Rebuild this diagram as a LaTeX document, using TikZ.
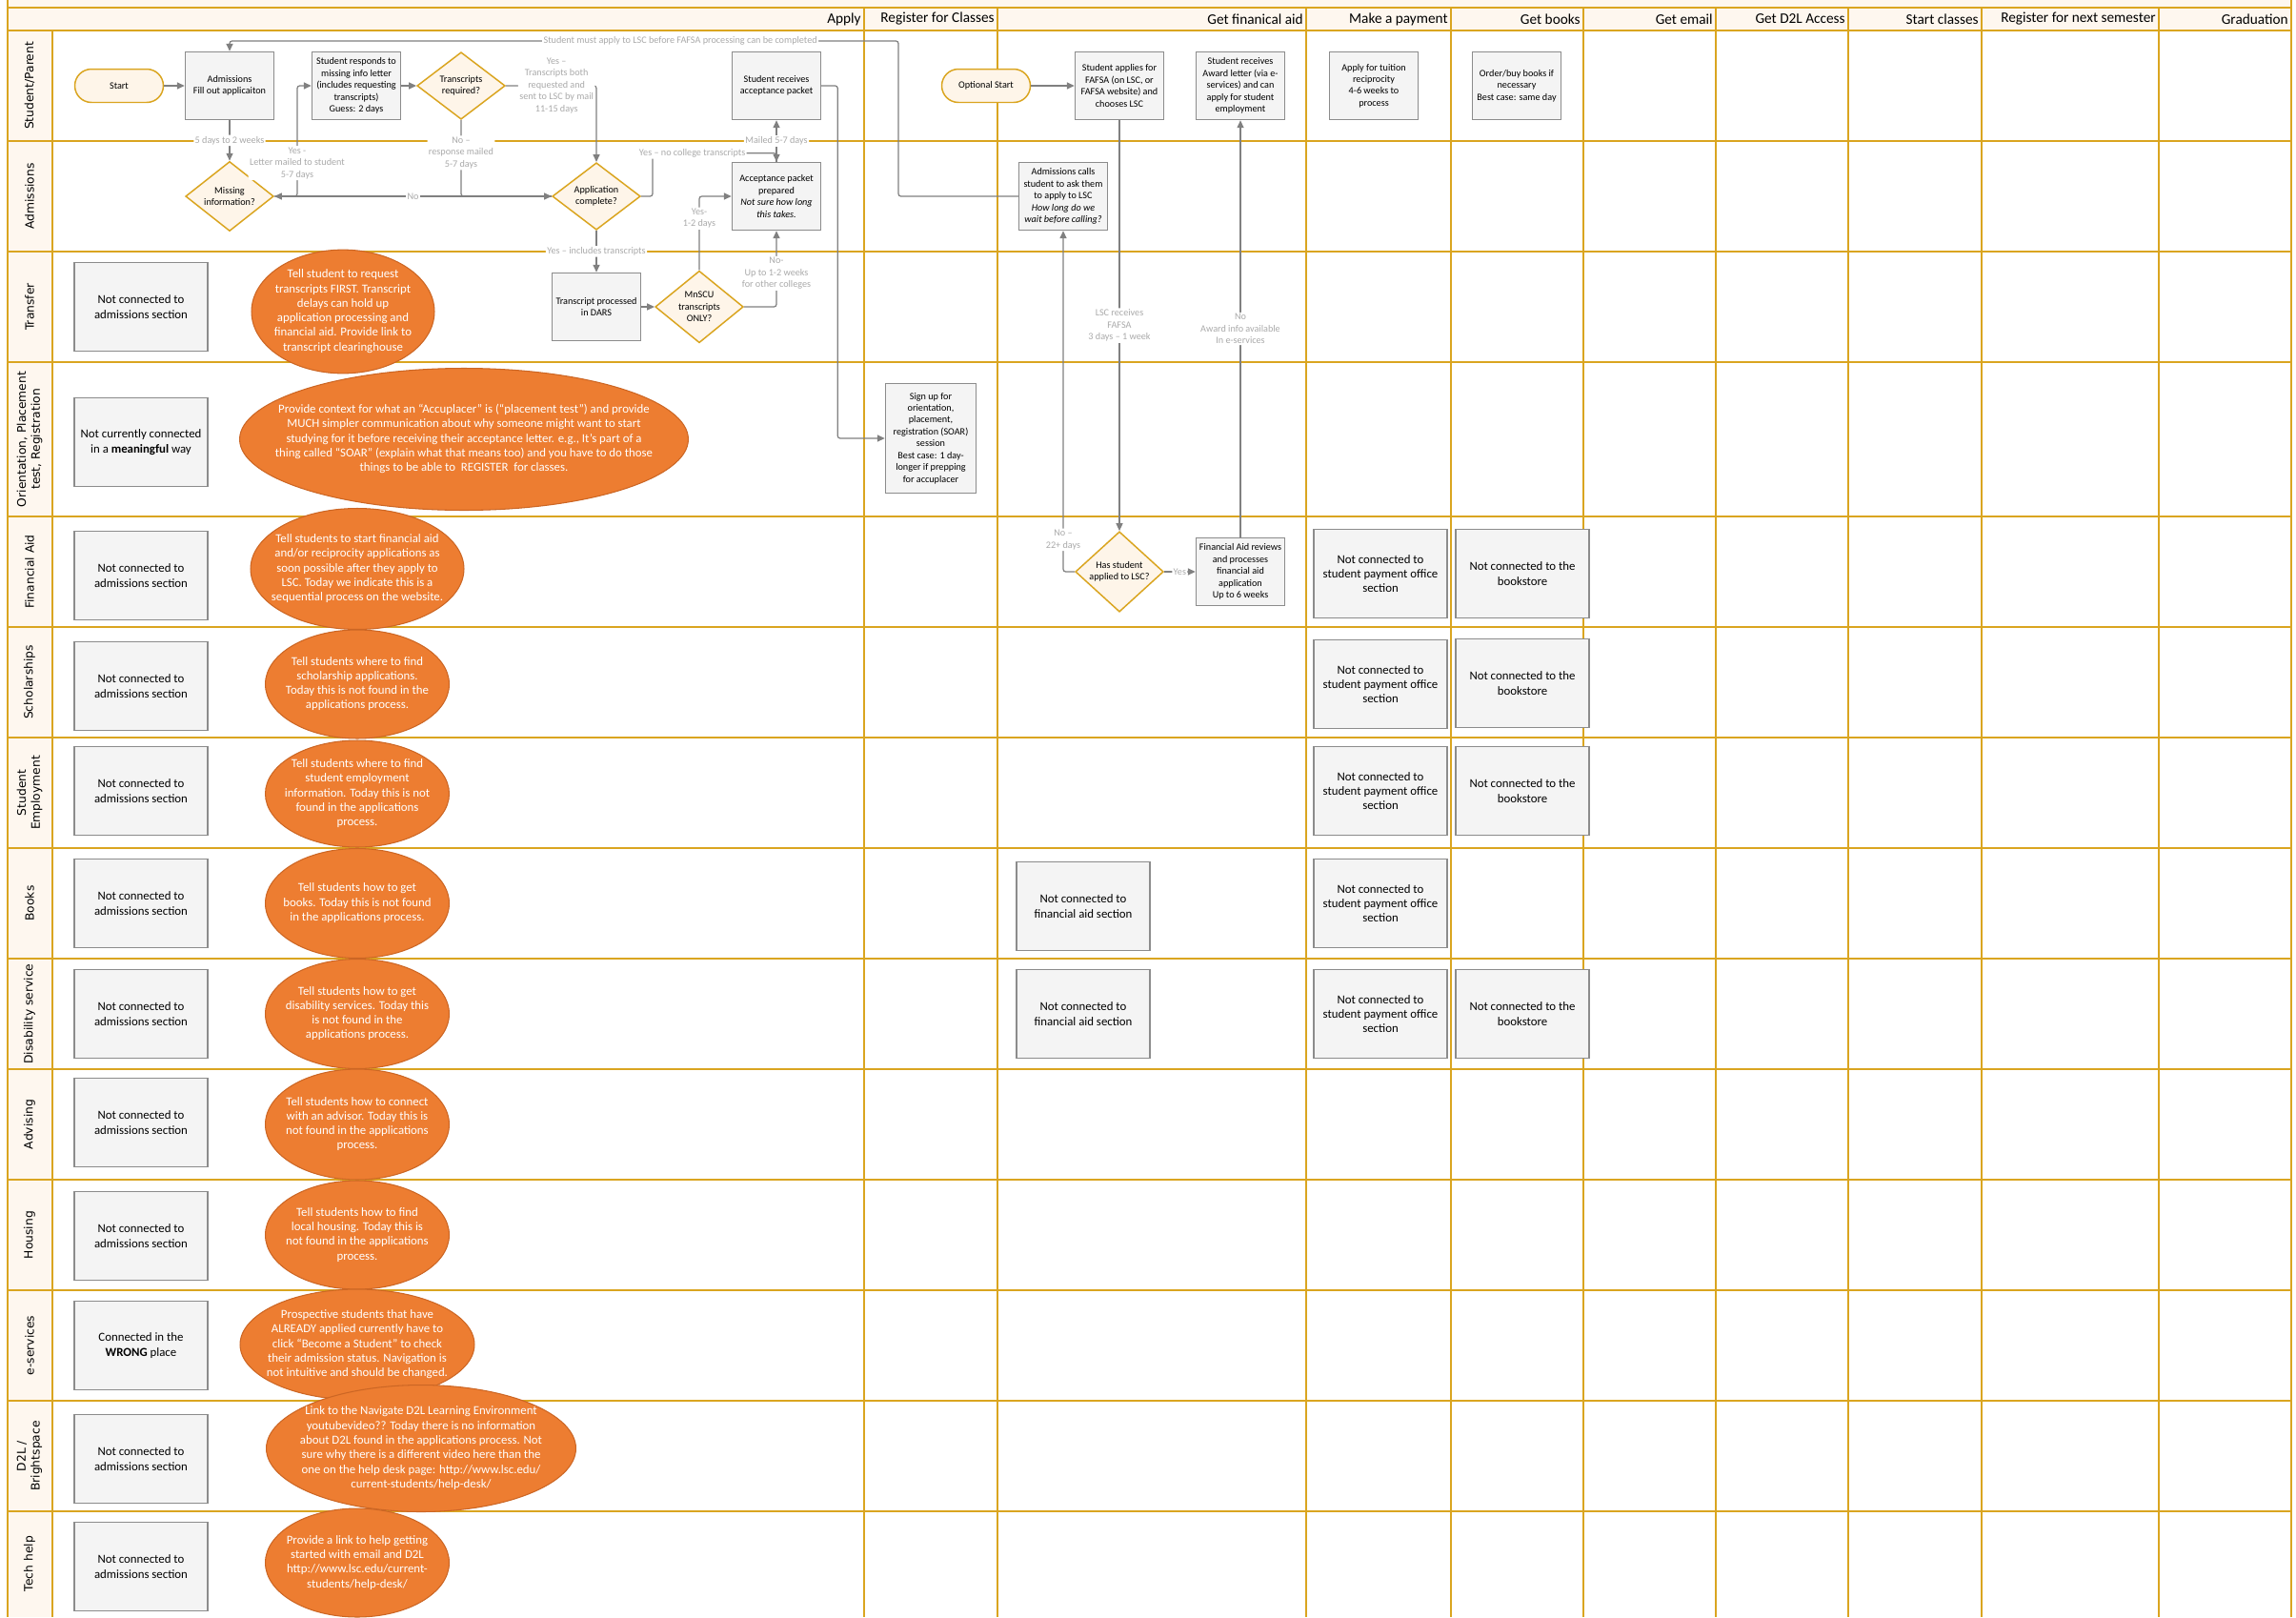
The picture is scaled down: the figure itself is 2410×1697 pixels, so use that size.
\documentclass[tikz,border=0pt]{standalone}
\usepackage{fontspec}
\setmainfont{Carlito}
\newfontfamily\lanefont{DejaVu Sans}
\usetikzlibrary{shapes.geometric,arrows.meta,calc}

\definecolor{lanegold}{RGB}{218,165,32}
\definecolor{headfill}{RGB}{254,247,239}
\definecolor{boxfill}{RGB}{244,244,244}
\definecolor{boxline}{RGB}{140,140,140}
\definecolor{decfill}{RGB}{254,245,233}
\definecolor{notefill}{RGB}{237,125,49}
\definecolor{noteline}{RGB}{204,102,36}
\definecolor{flowgray}{RGB}{128,128,128}
\definecolor{lblgray}{RGB}{170,170,170}

\newcommand\notetext[1]{\makebox[0pt][c]{\begin{tabular}{@{}c@{}}#1\end{tabular}}}

\tikzset{
  laneline/.style={draw=lanegold, line width=1.1pt},
  colline/.style={draw=lanegold, line width=0.95pt},
  headtxt/.style={inner sep=0pt, font=\fontsize{8.7}{10}\selectfont},
  lanetxt/.style={rotate=90, align=center, inner sep=0pt, font=\lanefont\fontsize{7}{8.4}\selectfont},
  stepbox/.style={draw=boxline, fill=boxfill, line width=0.85pt, align=center, inner sep=1pt,
    minimum width=1.86cm, minimum height=1.42cm, font=\fontsize{5.8}{7.1}\selectfont},
  bigbox/.style={stepbox, minimum width=2.8cm, minimum height=1.86cm, font=\fontsize{7.3}{8.7}\selectfont},
  pill/.style={draw=lanegold, fill=decfill, line width=0.85pt, rounded corners=0.35cm,
    minimum width=1.86cm, minimum height=0.7cm, font=\fontsize{5.8}{7.1}\selectfont},
  decision/.style={diamond, draw=lanegold, fill=decfill, line width=0.85pt, align=center, inner sep=0pt,
    minimum width=1.85cm, minimum height=1.41cm, font=\fontsize{5.8}{7.1}\selectfont},
  note/.style={ellipse, draw=noteline, fill=notefill, line width=0.6pt, text=white, inner sep=0pt,
    font=\fontsize{7.3}{8.7}\selectfont},
  flow/.style={draw=flowgray, line width=0.7pt, rounded corners=1.5pt, -{Triangle[length=4.5pt,width=4pt]}},
  lbl/.style={fill=white, text=lblgray, inner sep=0.8pt, align=center, font=\fontsize{5.8}{7.1}\selectfont}
}

\begin{document}
\begin{tikzpicture}[x=0.02cm, y=-0.02cm]
\useasboundingbox (0,0) rectangle (2410,1697);
\fill[headfill] (8,0) rectangle (2405,32);
\fill[headfill] (8,32) rectangle (55,1697);
\foreach \y in {8,32,148,264,380,542,658,774,890,1006,1122,1238,1354,1470,1586}
  \draw[laneline] (8,\y) -- (2405,\y);
\foreach \x in {907,1047,1371,1523,1662,1801,1940,2080,2266}
  \draw[colline] (\x,8) -- (\x,1697);
\draw[laneline] (8,0) -- (8,1697);
\draw[laneline] (2405,0) -- (2405,1697);
\draw[laneline] (55,32) -- (55,1697);

\foreach \x/\t [count=\i] in {907/Apply,1047/Register for Classes,1371/Get finanical aid,1523/Make a payment,1662/Get books,1801/Get email,1940/Get D2L Access,2080/Start classes,2266/Register for next semester,2405/Graduation}
  \node[headtxt, anchor=east] (head\i) at (\x-3,20) {\t};

\foreach \y/\t [count=\i] in {90/{Student/Parent},206/{Admissions},322/{Transfer},461/{Orientation, Placement\\test, Registration},600/{Financial Aid},716/{Scholarships},832/{Student\\Employment},948/{Books},1064/{Disability service},1180/{Advising},1296/{Housing},1412/{e-services},1528/{D2L /\\Brightspace},1641/{Tech help}}
  \node[lanetxt] (lane\i) at (31,\y) {\t};

\node[pill] (start) at (125,90) {Start};
\node[stepbox] (admit) at (241,90) {Admissions\\Fill out applicaiton};
\node[stepbox] (respond) at (374,90) {Student responds to\\missing info letter\\(includes requesting\\transcripts)\\Guess: 2 days};
\node[decision] (treq) at (484,90) {Transcripts\\required?};
\node[stepbox] (rcvpkt) at (815,90) {Student receives\\acceptance packet};
\node[pill] (optstart) at (1035,90) {Optional Start};
\node[stepbox] (fafsa) at (1175,90) {Student applies for\\FAFSA (on LSC, or\\FAFSA website) and\\chooses LSC};
\node[stepbox] (award) at (1302,90) {Student receives\\Award letter (via e-\\services) and can\\apply for student\\employment};
\node[stepbox] (recip) at (1442,90) {Apply for tuition\\reciprocity\\4-6 weeks to\\process};
\node[stepbox] (orderbk) at (1592,90) {Order/buy books if\\necessary\\Best case: same day};

\node[decision] (missing) at (241,206) {Missing\\information?};
\node[decision] (appdone) at (626,206) {Application\\complete?};
\node[stepbox] (pktprep) at (815,206) {Acceptance packet\\prepared\\\textit{Not sure how long}\\\textit{this takes.}};
\node[stepbox] (calls) at (1116,206) {Admissions calls\\student to ask them\\to apply to LSC\\\textit{How long do we}\\\textit{wait before calling?}};

\node[stepbox] (dars) at (626,322) {Transcript processed\\in DARS};
\node[decision] (mnscu) at (734,322) {MnSCU\\transcripts\\ONLY?};
\node[stepbox, minimum width=1.9cm, minimum height=2.3cm] (signup) at (977,460) {Sign up for\\orientation,\\placement,\\registration (SOAR)\\session\\Best case: 1 day-\\longer if prepping\\for accuplacer};
\node[decision] (applied) at (1175,600) {Has student\\applied to LSC?};
\node[stepbox] (fareview) at (1302,600) {Financial Aid reviews\\and processes\\financial aid\\application\\Up to 6 weeks};

\node[bigbox] (trnone) at (148,322) {Not connected to\\admissions section};
\node[bigbox] (ornone) at (148,464) {Not currently connected\\in a \textbf{meaningful} way};
\node[bigbox] (fanone) at (148,604) {Not connected to\\admissions section};
\node[bigbox] (schnone) at (148,720) {Not connected to\\admissions section};
\node[bigbox] (empnone) at (148,830) {Not connected to\\admissions section};
\node[bigbox] (bknone) at (148,948) {Not connected to\\admissions section};
\node[bigbox] (disnone) at (148,1064) {Not connected to\\admissions section};
\node[bigbox] (advnone) at (148,1178) {Not connected to\\admissions section};
\node[bigbox] (hsnone) at (148,1297) {Not connected to\\admissions section};
\node[bigbox] (esnone) at (148,1412) {Connected in the\\\textbf{WRONG} place};
\node[bigbox] (d2lnone) at (148,1531) {Not connected to\\admissions section};
\node[bigbox] (technone) at (148,1644) {Not connected to\\admissions section};

\node[bigbox] (bkfa) at (1137,951) {Not connected to\\financial aid section};
\node[bigbox] (disfa) at (1137,1064) {Not connected to\\financial aid section};
\foreach \y/\n in {602/fa,718/sch,830/emp,948/bk,1064/dis}
  \node[bigbox] (\n pay) at (1449,\y) {Not connected to\\student payment office\\section};
\foreach \y/\n in {602/fa,717/sch,830/emp,1064/dis}
  \node[bigbox] (\n book) at (1598,\y) {Not connected to the\\bookstore};

\draw[flow] (start) -- (admit);
\draw[flow] (admit) -- node[lbl] (lb1) {5 days to 2 weeks} (missing);
\draw[flow] (missing.east) -- ++(24,0) |- node[lbl, pos=0.15] (lb2) {Yes -\\Letter mailed to student\\5-7 days} (respond.west);
\draw[flow] (respond) -- (treq);
\draw[flow] (treq.south) |- node[lbl, pos=0.215] (lb3) {No --\\response mailed\\5-7 days} (appdone.west);
\draw[flow] (treq.east) -| node[lbl, pos=0.28] (lb4) {Yes --\\Transcripts both\\requested and\\sent to LSC by mail\\11-15 days} (appdone.north);
\draw[flow] (appdone.west) -- node[lbl] (lb5) {No} (missing.east);
\coordinate (pkttop) at ($(pktprep.north)+(0,-9)$);
\draw[flow] (appdone.east) -- ++(12,0) |- node[lbl, pos=0.66] (lb6) {Yes -- no college transcripts} (pkttop) -- (pktprep.north);
\draw[flow] (pktprep.north) -- node[lbl] (lb7) {Mailed 5-7 days} (rcvpkt.south);
\draw[flow] (appdone.south) -- node[lbl] (lb8) {Yes -- includes transcripts} (dars.north);
\draw[flow] (dars) -- (mnscu);
\draw[flow] (mnscu.north) |- node[lbl, pos=0.35] (lb9) {Yes-\\1-2 days} (pktprep.west);
\draw[flow] (mnscu.east) -| node[lbl, pos=0.72] (lb10) {No-\\Up to 1-2 weeks\\for other colleges} (pktprep.south);
\draw[flow] (rcvpkt.east) -- ++(17,0) |- (signup.west);
\coordinate (fafsaturn) at (943,43);
\draw[flow] (calls.west) -| (fafsaturn) -| node[lbl, pos=0.163] (lb11) {Student must apply to LSC before FAFSA processing can be completed} (admit.north);
\draw[flow] (optstart) -- (fafsa);
\draw[flow] (fafsa) -- node[lbl] (lb12) {LSC receives\\FAFSA\\3 days -- 1 week} (applied);
\draw[flow] (applied.west) -| node[lbl, pos=0.547] (lb13) {No --\\22+ days} (calls.south);
\draw[flow] (applied) -- node[lbl] (lb14) {Yes} (fareview);
\draw[flow] (fareview) -- node[lbl] (lb15) {No\\Award info available\\In e-services} (award);

\node[note, minimum width=3.84cm, minimum height=2.58cm] (trnote) at (360,327) {\notetext{Tell student to request\\transcripts FIRST. Transcript\\delays can hold up\\application processing and\\financial aid. Provide link to\\transcript clearinghouse}};
\node[note, minimum width=9.42cm, minimum height=2.98cm] (ornote) at (487,461) {\notetext{Provide context for what an “Accuplacer” is (“placement test”) and provide\\MUCH simpler communication about why someone might want to start\\studying for it before receiving their acceptance letter. e.g., It’s part of a\\thing called “SOAR” (explain what that means too) and you have to do those\\things to be able to~ REGISTER ~for classes.}};
\node[note, minimum width=4.48cm, minimum height=2.54cm] (fanote) at (375,597) {\notetext{Tell students to start financial aid\\and/or reciprocity applications as\\soon possible after they apply to\\LSC. Today we indicate this is a\\sequential process on the website.}};
\node[note, minimum width=3.86cm, minimum height=2.28cm] (schnote) at (375,718) {\notetext{Tell students where to find\\scholarship applications.\\Today this is not found in the\\applications process.}};
\node[note, minimum width=3.86cm, minimum height=2.24cm] (empnote) at (375,833) {\notetext{Tell students where to find\\student employment\\information. Today this is not\\found in the applications\\process.}};
\node[note, minimum width=3.86cm, minimum height=2.3cm] (bknote) at (375,948) {\notetext{Tell students how to get\\books. Today this is not found\\in the applications process.}};
\node[note, minimum width=3.86cm, minimum height=2.3cm] (disnote) at (375,1064) {\notetext{Tell students how to get\\disability services. Today this\\is not found in the\\applications process.}};
\node[note, minimum width=3.86cm, minimum height=2.32cm] (advnote) at (375,1180) {\notetext{Tell students how to connect\\with an advisor. Today this is\\not found in the applications\\process.}};
\node[note, minimum width=3.86cm, minimum height=2.28cm] (hsnote) at (375,1296) {\notetext{Tell students how to find\\local housing. Today this is\\not found in the applications\\process.}};
\node[note, minimum width=4.92cm, minimum height=2.32cm] (esnote) at (375,1411) {\notetext{Prospective students that have\\ALREADY applied currently have to\\click “Become a Student” to check\\their admission status. Navigation is\\not intuitive and should be changed.}};
\node[note, minimum width=6.5cm, minimum height=2.66cm] (d2lnote) at (442,1520) {\notetext{Link to the Navigate D2L Learning Environment\\youtubevideo?? Today there is no information\\about D2L found in the applications process. Not\\sure why there is a different video here than the\\one on the help desk page: http://www.lsc.edu/\\current-students/help-desk/}};
\node[note, minimum width=3.86cm, minimum height=2.28cm] (technote) at (375,1640) {\notetext{Provide a link to help getting\\started with email and D2L\\http://www.lsc.edu/current-\\students/help-desk/}};
\end{tikzpicture}
\end{document}
